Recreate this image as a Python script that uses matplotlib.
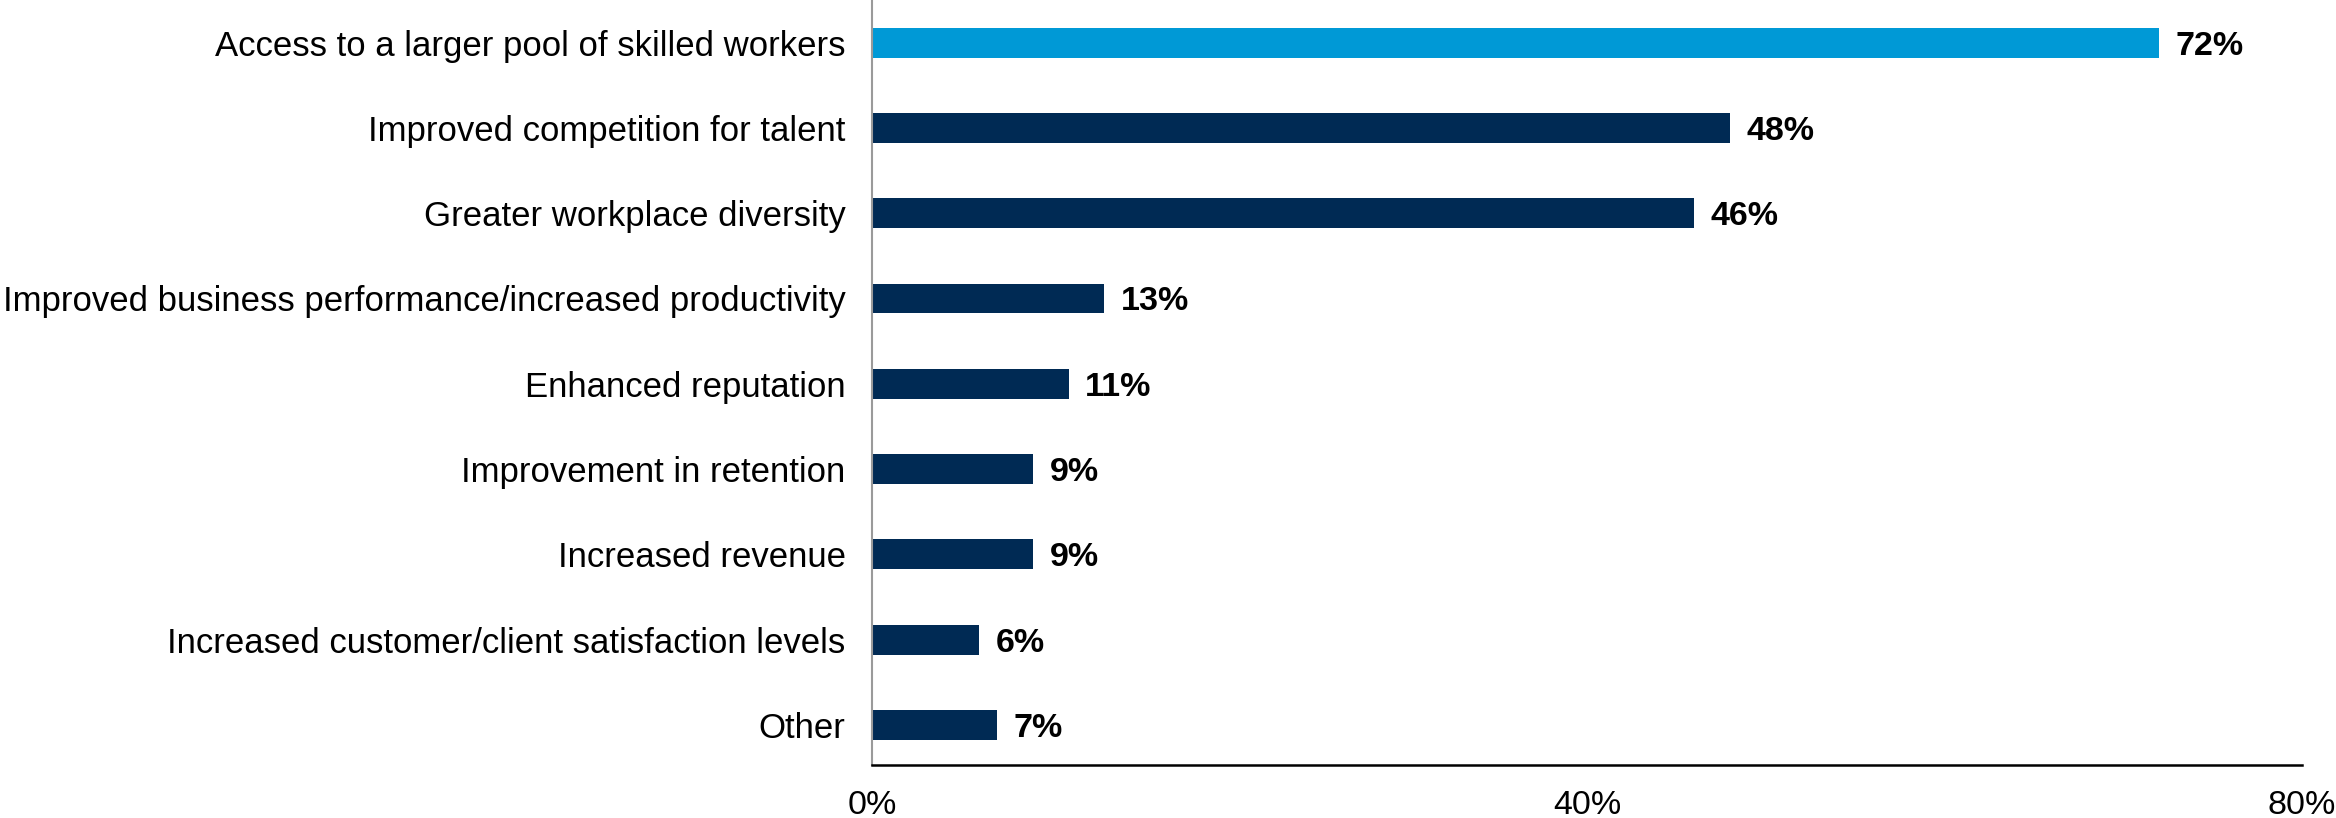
import numpy as np
import matplotlib.pyplot as plt

plt.rcParams['font.family'] = ['Liberation Sans', 'DejaVu Sans']

# survey answers, top to bottom
categories = [
    'Access to a larger pool of skilled workers',
    'Improved competition for talent',
    'Greater workplace diversity',
    'Improved business performance/increased productivity',
    'Enhanced reputation',
    'Improvement in retention',
    'Increased revenue',
    'Increased customer/client satisfaction levels',
    'Other',
]
values = [72, 48, 46, 13, 11, 9, 9, 6, 7]
x_ticks = [0, 40, 80]

highlight = '#0099D6'
navy = '#002A54'

fig = plt.figure(figsize=(23.36, 8.18), dpi=100)
ax = fig.add_axes([872 / 2336, 53 / 818, (2302 - 872) / 2336, 765 / 818])

y = np.arange(len(categories))
colors = [highlight] + [navy] * (len(categories) - 1)
ax.barh(y, values, height=0.35, color=colors)

for yi, v in zip(y, values):
    ax.annotate(f'{v}%', xy=(v, yi), xytext=(12, 0), textcoords='offset points',
                va='center_baseline', ha='left', fontsize=24.5, fontweight='bold',
                color='black')

ax.set_xlim(0, 80)
ax.set_ylim(8.47, -0.5)
ax.set_yticks(y)
ax.set_yticklabels(categories, fontsize=25)
ax.set_xticks(x_ticks)
ax.set_xticklabels([f'{t}%' for t in x_ticks], fontsize=24.5)
ax.tick_params(axis='y', length=0, pad=19)
ax.tick_params(axis='x', length=0, pad=18)

for s in ['top', 'right']:
    ax.spines[s].set_visible(False)
ax.spines['left'].set_color('#9a9a9a')
ax.spines['left'].set_linewidth(1.5)
ax.spines['bottom'].set_color('black')
ax.spines['bottom'].set_linewidth(1.8)

fig.savefig('out.png', dpi=100)
